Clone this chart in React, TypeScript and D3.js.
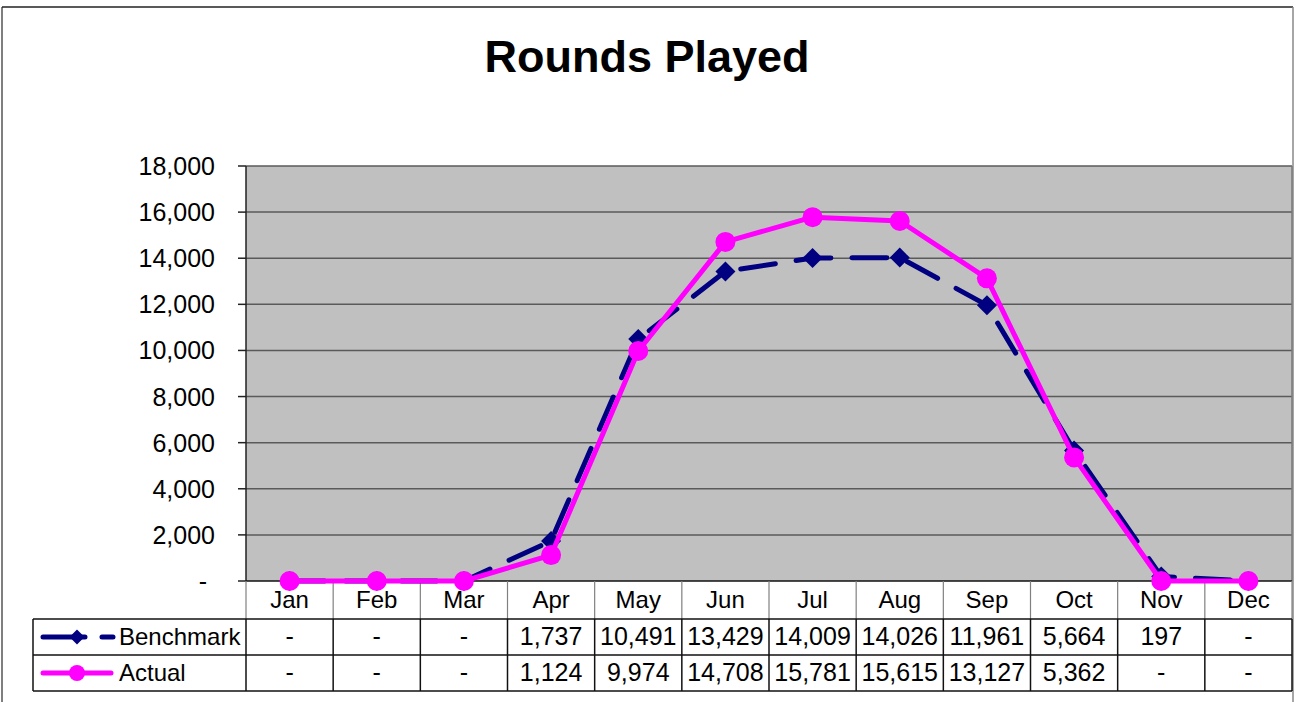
import * as d3 from 'd3'

const months = ['Jan', 'Feb', 'Mar', 'Apr', 'May', 'Jun', 'Jul', 'Aug', 'Sep', 'Oct', 'Nov', 'Dec']
const benchmark = [0, 0, 0, 1737, 10491, 13429, 14009, 14026, 11961, 5664, 197, 0]
const actual = [0, 0, 0, 1124, 9974, 14708, 15781, 15615, 13127, 5362, 0, 0]
const yTickValues = [0, 2000, 4000, 6000, 8000, 10000, 12000, 14000, 16000, 18000]

const FONT = 'Liberation Sans, Arial, sans-serif'
const NAVY = '#000080'
const MAGENTA = '#FF00FF'

const App = () => {
    const left = 246
    const right = 1292
    const top = 166
    const bottom = 581
    const rowH = 36

    // scales
    const x = d3.scaleBand<string>().domain(months).range([left, right])
    const cx = (m: string) => (x(m) as number) + x.bandwidth() / 2
    const y = d3.scaleLinear().domain([0, 18000]).range([bottom, top])

    const fmt = (v: number) => (v === 0 ? '-' : d3.format(',')(v))

    const line = d3.line<number>()
        .x((_, i) => cx(months[i]))
        .y(d => y(d))

    const diamond = (px: number, py: number, r: number) =>
        `M${px},${py - r}L${px + r},${py}L${px},${py + r}L${px - r},${py}Z`

    const headerTop = bottom
    const row1 = bottom + 38
    const row2 = row1 + rowH
    const row3 = row2 + rowH
    const bounds = [left, ...months.map(m => (x(m) as number) + x.bandwidth())]

    return (
        <svg width={1296} height={702} style={{ position: 'absolute', left: 0, top: 0, background: '#fff' }}
            fontFamily={FONT}>
            {/* chart frame */}
            <line x1={2} x2={2} y1={7} y2={702} stroke='#555' strokeWidth={1.5} />
            <line x1={2} x2={1293} y1={7} y2={7} stroke='#222' strokeWidth={1.5} />
            <line x1={1293} x2={1293} y1={7} y2={702} stroke='#888' strokeWidth={1.5} />

            <text x={647} y={72} textAnchor='middle' fontSize={45} fontWeight='bold'>Rounds Played</text>

            {/* plot area */}
            <rect x={left} y={top} width={right - left} height={bottom - top} fill='#C0C0C0' />
            {yTickValues.map(v => (
                <g key={v}>
                    {v > 0 && <line x1={left} x2={right} y1={y(v)} y2={y(v)} stroke='#5a5a5a' strokeWidth={1.5} />}
                    <line x1={238} x2={left} y1={y(v)} y2={y(v)} stroke='#222' strokeWidth={1.5} />
                    <text x={v === 0 ? 207 : 215} y={y(v) + 9} textAnchor='end' fontSize={25}>{fmt(v)}</text>
                </g>
            ))}
            <line x1={right} x2={right} y1={top} y2={bottom} stroke='#777' strokeWidth={1.5} />
            <line x1={left} x2={left} y1={top} y2={bottom} stroke='#222' strokeWidth={1.5} />
            <line x1={left} x2={right} y1={bottom} y2={bottom} stroke='#111' strokeWidth={1.5} />

            {/* data table */}
            {bounds.map((bx, i) => (
                <line key={'h' + i} x1={bx} x2={bx} y1={headerTop} y2={row1} stroke='#808080' strokeWidth={1.2} />
            ))}
            {[33, ...bounds].map((bx, i) => (
                <line key={'v' + i} x1={bx} x2={bx} y1={row1} y2={row3} stroke='#111' strokeWidth={1.5} />
            ))}
            {[row1, row2, row3].map(ry => (
                <line key={ry} x1={33} x2={right} y1={ry} y2={ry} stroke='#111' strokeWidth={1.5} />
            ))}
            {months.map((m, i) => (
                <g key={m} textAnchor='middle'>
                    <text x={cx(m)} y={row1 - 11} fontSize={24}>{m}</text>
                    <text x={cx(m)} y={row2 - 10} fontSize={25}>{fmt(benchmark[i])}</text>
                    <text x={cx(m)} y={row3 - 10} fontSize={25}>{fmt(actual[i])}</text>
                </g>
            ))}

            {/* legend keys */}
            <line x1={43} x2={113} y1={row1 + 18} y2={row1 + 18} stroke={NAVY} strokeWidth={5}
                strokeLinecap='round' strokeDasharray='42,17,13' />
            <path d={diamond(77, row1 + 18, 7.5)} fill={NAVY} />
            <text x={119} y={row2 - 10} fontSize={24}>Benchmark</text>
            <line x1={43} x2={111} y1={row2 + 18} y2={row2 + 18} stroke={MAGENTA} strokeWidth={5} strokeLinecap='round' />
            <circle cx={77} cy={row2 + 18} r={8} fill={MAGENTA} />
            <text x={119} y={row3 - 10} fontSize={24}>Actual</text>

            {/* series */}
            <path d={line(benchmark) as string} fill='none' stroke={NAVY} strokeWidth={5}
                strokeLinecap='round' strokeLinejoin='round' strokeDasharray='35,21' />
            {benchmark.map((v, i) => (
                <path key={'b' + i} d={diamond(cx(months[i]), y(v), 10)} fill={NAVY} />
            ))}
            <path d={line(actual) as string} fill='none' stroke={MAGENTA} strokeWidth={5}
                strokeLinejoin='round' />
            {actual.map((v, i) => (
                <circle key={'a' + i} cx={cx(months[i])} cy={y(v)} r={10} fill={MAGENTA} />
            ))}
        </svg>
    )
}

export default App
